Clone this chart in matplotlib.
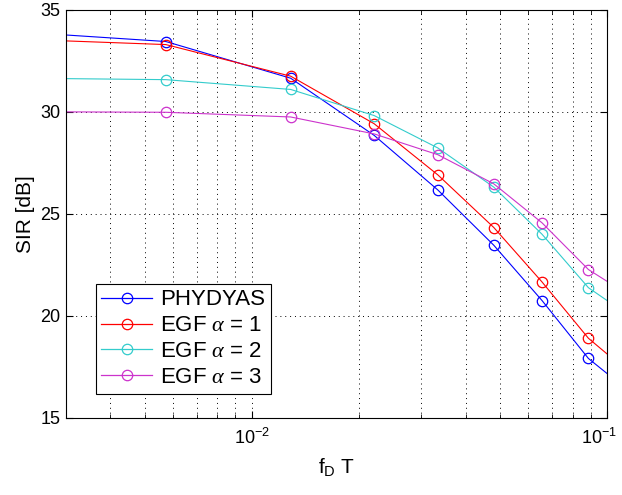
import numpy as np
import matplotlib
matplotlib.use('Agg')
import matplotlib.pyplot as plt
import matplotlib.transforms as mtransforms
from matplotlib.ticker import LogLocator, NullFormatter, FixedLocator

plt.rcParams['font.family'] = ['Liberation Sans', 'DejaVu Sans']
plt.rcParams['mathtext.fontset'] = 'custom'
plt.rcParams['mathtext.rm'] = 'Liberation Sans'
plt.rcParams['mathtext.it'] = 'Liberation Serif:italic'

# normalized Doppler values where the markers sit
fdT = [0.00573, 0.01287, 0.0221, 0.0334, 0.048, 0.0656, 0.0886]
# line endpoints at the axis limits
x_left, x_right = 0.003, 0.1

# SIR [dB] at the markers
sir_phydyas = [33.45, 31.65, 28.85, 26.17, 23.46, 20.75, 17.91]
sir_egf1 = [33.30, 31.75, 29.42, 26.91, 24.33, 21.66, 18.90]
sir_egf2 = [31.58, 31.10, 29.82, 28.23, 26.31, 24.00, 21.38]
sir_egf3 = [29.98, 29.75, 28.92, 27.90, 26.47, 24.56, 22.27]

# SIR at the left and right axis limits
sir_left = [33.77, 33.48, 31.63, 30.0]
sir_right = [17.17, 18.13, 20.75, 21.69]

labels = ['PHYDYAS', r'EGF $\alpha$ = 1', r'EGF $\alpha$ = 2', r'EGF $\alpha$ = 3']
colors = ['#0000ff', '#ff0000', '#33cccc', '#cc33cc']
series = [sir_phydyas, sir_egf1, sir_egf2, sir_egf3]

fig = plt.figure(figsize=(6.22, 4.95), dpi=100)
ax = fig.add_axes([0.106, 0.156, 0.870, 0.824])

for i, s in enumerate(series):
    xs = [x_left] + fdT + [x_right]
    ys = [sir_left[i]] + s + [sir_right[i]]
    ax.plot(xs, ys, '-', color=colors[i], lw=0.8)
    ax.plot(fdT, s, 'o', mfc='none', mec=colors[i], ms=7.5, mew=0.9)
    # proxy for the legend entry
    ax.plot([], [], '-o', color=colors[i], mfc='none', ms=7.5, mew=0.9, lw=0.9, label=labels[i])

ax.set_xscale('log')
ax.set_xlim(x_left, x_right)
ax.set_ylim(15, 35)
ax.yaxis.set_major_locator(FixedLocator([15, 20, 25, 30, 35]))
ax.xaxis.set_major_locator(LogLocator(base=10))
ax.xaxis.set_minor_locator(LogLocator(base=10, subs=np.arange(2, 10)))
ax.xaxis.set_minor_formatter(NullFormatter())

grid_style = dict(ls=(0, (1, 4)), color='k', lw=0.7)
ax.grid(True, which='major', **grid_style)
ax.grid(True, which='minor', axis='x', **grid_style)
ax.tick_params(which='both', direction='in', top=True, right=True, labelsize=13, color='k')
ax.tick_params(which='major', length=5)
ax.tick_params(which='minor', length=3)
ax.tick_params(axis='x', pad=7)
ax.tick_params(axis='y', pad=4)
for sp in ax.spines.values():
    sp.set_linewidth(0.8)

ax.set_xlabel(r'f$_\mathregular{D}$ T', fontsize=15, labelpad=6)
ax.set_ylabel('SIR [dB]', fontsize=15, labelpad=4)

# keep the 10^-1 label inside the figure
fig.canvas.draw()
for t in ax.get_xticklabels():
    if abs(t.get_position()[0] - 0.1) < 1e-9:
        t.set_transform(t.get_transform() + mtransforms.ScaledTranslation(-6 / 72, 0, fig.dpi_scale_trans))

leg = ax.legend(loc='lower left', bbox_to_anchor=(0.055, 0.059), fontsize=16,
                fancybox=False, edgecolor='k', framealpha=1, handlelength=2.3,
                borderpad=0.25, labelspacing=0.22, handletextpad=0.35,
                borderaxespad=0)
leg.get_frame().set_linewidth(0.8)

fig.savefig('out.png', dpi=100)
